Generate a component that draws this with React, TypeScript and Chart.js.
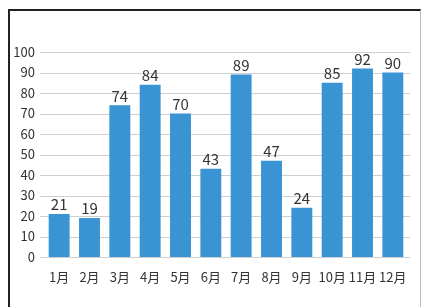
import React, { useEffect, useRef } from "react";
import { Chart, registerables } from "chart.js";

Chart.register(...registerables);

const categories = ["1月", "2月", "3月", "4月", "5月", "6月", "7月", "8月", "9月", "10月", "11月", "12月"];
const values = [21, 19, 74, 84, 70, 43, 89, 47, 24, 85, 92, 90];
const yTicks = [0, 10, 20, 30, 40, 50, 60, 70, 80, 90, 100];

const FONT = "'Noto Sans CJK JP', 'Noto Sans', sans-serif";

const gridLines = {
  id: "gridLines",
  beforeDatasetsDraw(chart: any) {
    const { ctx } = chart;
    const y = chart.scales.y;
    ctx.save();
    ctx.strokeStyle = "#cfcfcf";
    ctx.lineWidth = 1;
    yTicks.forEach((v) => {
      const py = Math.round(y.getPixelForValue(v)) + 0.5;
      ctx.beginPath();
      ctx.moveTo(40, py);
      ctx.lineTo(410, py);
      ctx.stroke();
    });
    ctx.restore();
  },
};

const valueLabels = {
  id: "valueLabels",
  afterDatasetsDraw(chart: any) {
    const { ctx } = chart;
    const meta = chart.getDatasetMeta(0);
    ctx.save();
    ctx.font = `15px ${FONT}`;
    ctx.fillStyle = "#333";
    ctx.textAlign = "center";
    ctx.textBaseline = "bottom";
    meta.data.forEach((bar: any, i: number) => {
      ctx.fillText(String(values[i]), bar.x, bar.y - 2);
    });
    ctx.restore();
  },
};

export default function App() {
  const ref = useRef<HTMLCanvasElement>(null);
  useEffect(() => {
    if (!ref.current) return;
    const chart = new Chart(ref.current, {
      type: "bar",
      data: {
        labels: categories,
        datasets: [
          {
            data: values,
            backgroundColor: "#3a94d4",
            barPercentage: 0.69,
            categoryPercentage: 1,
          },
        ],
      },
      options: {
        animation: false,
        responsive: false,
        layout: { padding: { top: 52, right: 15, left: 0, bottom: 0 } },
        plugins: { legend: { display: false }, tooltip: { enabled: false } },
        scales: {
          x: {
            grid: { display: false, drawTicks: false },
            border: { display: false },
            ticks: { color: "#333", font: { family: FONT, size: 13 }, padding: 12, maxRotation: 0, autoSkip: false },
            afterFit(scale: any) {
              scale.height = 50;
            },
          },
          y: {
            min: 0,
            max: 100,
            afterBuildTicks(scale: any) {
              scale.ticks = yTicks.map((v) => ({ value: v }));
            },
            grid: { display: false, drawTicks: false },
            border: { display: false },
            ticks: { color: "#333", font: { family: FONT, size: 13 }, padding: 9 },
            afterFit(scale: any) {
              scale.width = 44;
            },
          },
        },
      },
      plugins: [gridLines, valueLabels],
    });
    return () => chart.destroy();
  }, []);
  return (
    <div style={{ position: "absolute", left: 0, top: 0, width: 423, height: 307, overflow: "hidden", background: "#fff" }}>
      <div
        style={{
          position: "absolute",
          left: 8,
          top: 9,
          width: 410,
          height: 320,
          borderLeft: "2px solid #222",
          borderTop: "2px solid #222",
          borderRight: "1px solid #bbb",
        }}
      />
      <canvas ref={ref} width={423} height={307} style={{ position: "absolute", left: 0, top: 0 }} />
    </div>
  );
}
